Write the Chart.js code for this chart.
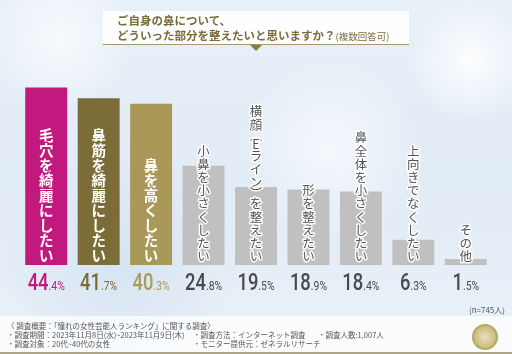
<!DOCTYPE html>
<html>
<head>
<meta charset="utf-8">
<script src="https://cdn.jsdelivr.net/npm/chart.js@4"></script>
<style>
  html, body { margin: 0; padding: 0; }
  body { width: 512px; height: 354px; overflow: hidden; position: relative;
    font-family: "Noto Sans CJK JP", "Noto Sans", sans-serif;
    background:
      radial-gradient(circle at 470px 60px, rgba(255,255,255,0.9) 0, rgba(255,255,255,0) 60px),
      radial-gradient(circle at 60px 40px, rgba(255,255,255,0.7) 0, rgba(255,255,255,0) 70px),
      radial-gradient(circle at 330px 150px, rgba(255,255,255,0.6) 0, rgba(255,255,255,0) 90px),
      radial-gradient(circle at 120px 260px, rgba(210,225,240,0.8) 0, rgba(210,225,240,0) 120px),
      linear-gradient(180deg, #e8f0f8 0%, #e2ecf6 50%, #e9f1f8 100%);
  }
  #grafica { position: absolute; left: 0; top: 0; }
  .titulo { position: absolute; left: 103px; top: 11px; width: 306px; height: 33px;
    background: rgba(255,255,255,0.92); border-bottom: 1px solid #a89a66; }
  .titulo p { margin: 0; position: absolute; left: 14px; color: #7b6c3c; font-weight: bold;
    font-size: 11.5px; line-height: 14px; white-space: nowrap; }
  .titulo .l1 { top: 2px; }
  .titulo .l2 { top: 17px; }
  .titulo small { font-size: 9.5px; font-weight: normal; }
  .flecha { position: absolute; left: 250px; top: 45px; width: 0; height: 0;
    border-left: 6px solid transparent; border-right: 6px solid transparent; border-top: 6px solid #8c7a3e; }
  .pie { position: absolute; left: 0; top: 316px; width: 512px; height: 36px;
    background: rgba(255,255,255,0.75); border-bottom: 2px solid #aea58a; }
  .pie span { position: absolute; font-size: 7.5px; color: #555; white-space: nowrap; line-height: 9px; }
  .n { position: absolute; right: 7px; top: 304px; font-size: 8px; color: #555; }
  .logo { position: absolute; left: 472px; top: 324px; width: 22px; height: 22px; border-radius: 50%;
    border: 2px solid #b7a866; background: radial-gradient(circle, #e8e1c0 0, #c9bb7c 70%); }
</style>
</head>
<body>
<canvas id="grafica" width="512" height="354"></canvas>
<div class="titulo">
  <p class="l1">ご自身の鼻について、</p>
  <p class="l2">どういった部分を整えたいと思いますか？<small>(複数回答可)</small></p>
</div>
<div class="flecha"></div>
<div class="n">(n=745人)</div>
<div class="pie">
  <span style="left:7px;top:5px">〈 調査概要：「憧れの女性芸能人ランキング」に関する調査〉</span>
  <span style="left:7px;top:14px">・調査期間：2023年11月8日(水)~2023年11月9日(木)</span>
  <span style="left:7px;top:23px">・調査対象：20代~40代の女性</span>
  <span style="left:193px;top:14px">・調査方法：インターネット調査</span>
  <span style="left:193px;top:23px">・モニター提供元：ゼネラルリサーチ</span>
  <span style="left:318px;top:14px">・調査人数:1,007人</span>
</div>
<div class="logo"></div>
<script>
const categorias = ['毛穴を綺麗にしたい', '鼻筋を綺麗にしたい', '鼻を高くしたい', '小鼻を小さくしたい',
  '横顔（Eライン）を整えたい', '形を整えたい', '鼻全体を小さくしたい', '上向きでなくしたい', 'その他'];
const valores = [44.4, 41.7, 40.3, 24.8, 19.5, 18.9, 18.4, 6.3, 1.5];
const coloresBarra = ['#c2197f', '#7c6c37', '#a99857', '#c0c0c0', '#c0c0c0', '#c0c0c0', '#c0c0c0', '#c0c0c0', '#c0c0c0'];
const coloresValor = ['#c0187e', '#7a6b35', '#a89a5a', '#4a4a4a', '#4a4a4a', '#4a4a4a', '#4a4a4a', '#4a4a4a', '#4a4a4a'];
const destacados = 3;

// parentesis en forma vertical
const formasVerticales = { '（': '︵', '）': '︶' };

// etiquetas verticales dentro de las barras
function dibujarVertical(ctx, texto, x, yBase, destacado, colorBorde) {
    const paso = destacado ? 15 : 13.2;
    const chars = Array.from(texto);
    const pasos = chars.map(c => formasVerticales[c] ? 8 : (c === 'E' ? 10 : paso));
    let y = yBase - pasos.reduce((a, b) => a + b, 0);
    ctx.font = (destacado ? 'bold 14.5px' : '12.5px') + ' "Noto Sans CJK JP"';
    ctx.textAlign = 'center';
    ctx.textBaseline = 'middle';
    ctx.lineJoin = 'round';
    chars.forEach((c, i) => {
        const cy = y + pasos[i] / 2;
        const glifo = formasVerticales[c] || c;
        ctx.lineWidth = 3;
        ctx.strokeStyle = destacado ? colorBorde : 'rgba(255,255,255,0.95)';
        ctx.strokeText(glifo, x, cy);
        ctx.fillStyle = destacado ? '#ffffff' : '#555555';
        ctx.fillText(glifo, x, cy);
        y += pasos[i];
    });
}

function dibujarValor(ctx, valor, x, y, color) {
    const partes = valor.toFixed(1).split('.');
    const grande = partes[0];
    const chico = '.' + partes[1] + '%';
    const esc = 0.8;
    const fG = '500 23px Roboto';
    const fC = '400 13px Roboto';
    ctx.save();
    ctx.font = fG;
    const wG = ctx.measureText(grande).width * esc;
    ctx.font = fC;
    const wC = ctx.measureText(chico).width * esc;
    const x0 = x - (wG + wC) / 2;
    ctx.fillStyle = color;
    ctx.textBaseline = 'alphabetic';
    ctx.textAlign = 'left';
    ctx.translate(x0, y);
    ctx.scale(esc, 1);
    ctx.font = fG;
    ctx.fillText(grande, 0, 0);
    ctx.font = fC;
    ctx.fillText(chico, wG / esc, 0);
    ctx.restore();
}

const pluginEtiquetas = {
    id: 'etiquetas',
    afterDatasetsDraw(chart) {
        const ctx = chart.ctx;
        const meta = chart.getDatasetMeta(0);
        const yCero = chart.scales.y.getPixelForValue(0);
        meta.data.forEach((barra, i) => {
            dibujarVertical(ctx, categorias[i], barra.x, yCero - 2, i < destacados, coloresBarra[i]);
            dibujarValor(ctx, valores[i], barra.x, yCero + 25, coloresValor[i]);
        });
    }
};

document.addEventListener('DOMContentLoaded', () => {
    new Chart(document.getElementById('grafica'), {
        type: 'bar',
        data: {
            labels: categorias,
            datasets: [{
                data: valores,
                backgroundColor: coloresBarra,
                borderWidth: 0,
                barPercentage: 0.8,
                categoryPercentage: 1.0
            }]
        },
        options: {
            responsive: false,
            animation: false,
            layout: { padding: { left: 20, right: 20, top: 65, bottom: 89 } },
            plugins: { legend: { display: false }, tooltip: { enabled: false } },
            scales: {
                x: { display: false },
                y: { display: false, min: 0, max: 50 }
            }
        },
        plugins: [pluginEtiquetas]
    });
});
</script>
</body>
</html>
